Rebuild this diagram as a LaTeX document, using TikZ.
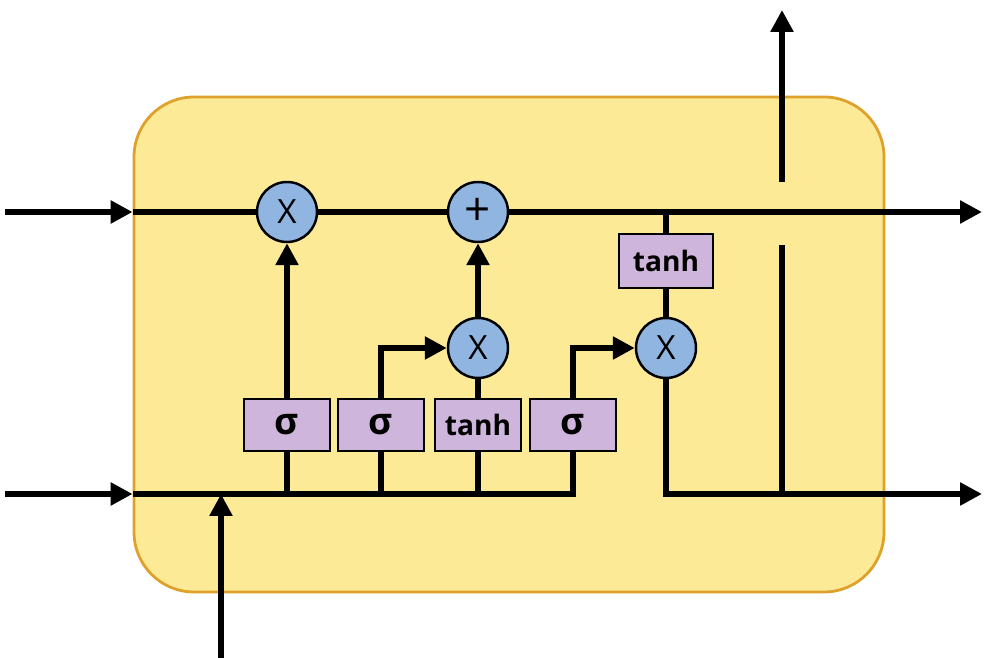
\documentclass[tikz,border=0pt]{standalone}
\usepackage{fontspec}
\setmainfont{Open Sans}
\usetikzlibrary{arrows.meta,positioning}
\definecolor{cellfill}{RGB}{253,234,150}
\definecolor{celledge}{RGB}{222,162,44}
\definecolor{opfill}{RGB}{143,181,224}
\definecolor{actfill}{RGB}{206,181,219}

\begin{document}
\begin{tikzpicture}[
  wire/.style={line width=3.8pt},
  flow/.style={wire,-{Triangle[length=0.44cm,width=0.44cm]}},
  op/.style={circle,draw,line width=1.4pt,fill=opfill,minimum size=1.2cm,inner sep=0pt,font=\fontsize{19}{20}\selectfont},
  act/.style={rectangle,draw,line width=1.3pt,fill=actfill,minimum width=1.72cm,minimum height=1.04cm,inner sep=0pt,font=\fontsize{16}{18}\selectfont\bfseries}
]
\useasboundingbox (0,0) rectangle (19.82,13.16);

% the cell
\node[draw=celledge,line width=1.6pt,fill=cellfill,rounded corners=1.2cm,minimum width=15cm,minimum height=9.9cm] (cell) at (10.18,6.27) {};

% ends of the outside wires
\coordinate (cin) at (0.1,8.92);
\coordinate (hin) at (0.1,3.28);
\coordinate (xin) at (4.42,0);
\coordinate (cout) at (19.64,8.92);
\coordinate (hout) at (19.64,3.28);
\coordinate (hup) at (15.64,12.96);
\coordinate (gaplow) at (15.64,8.26);
\coordinate (gaphigh) at (15.64,9.52);

% operations
\node[op] (x1) at (5.74,8.92) {X};
\node[op] (plus) at (9.56,8.92) {\fontsize{26}{26}\selectfont +};
\node[op] (x2) at (9.56,6.2) {X};
\node[op] (x3) at (13.32,6.2) {X};

% layers
\node[act] (s1) at (5.74,4.66) {\fontsize{21}{21}\selectfont σ};
\node[act] (s2) at (7.62,4.66) {\fontsize{21}{21}\selectfont σ};
\node[act] (t1) at (9.56,4.66) {tanh};
\node[act] (s3) at (11.46,4.66) {\fontsize{21}{21}\selectfont σ};
\node[act,minimum width=1.88cm,minimum height=1.08cm] (t2) at (13.32,7.94) {tanh};

% cell state
\draw[flow] (cin) -- (cin -| cell.west);
\draw[wire] (cin -| cell.west) -- (x1);
\draw[wire] (x1) -- (plus);
\draw[flow] (plus) -- (cout);

% hidden state and input
\draw[flow] (hin) -- (hin -| cell.west);
\draw[wire] (hin -| cell.west) -- (s3 |- hin) -- (s3.south);
\draw[wire] (s1) -- (s1 |- hin);
\draw[wire] (s2) -- (s2 |- hin);
\draw[wire] (t1) -- (t1 |- hin);
\draw[flow] (xin) -- (xin |- hin);

% gates
\draw[flow] (s1) -- (x1);
\draw[flow] (s2.north) |- (x2.west);
\draw[wire] (t1) -- (x2);
\draw[flow] (x2) -- (plus);
\draw[flow] (s3.north) |- (x3.west);
\draw[wire] (t2) -- (t2 |- cin);
\draw[wire] (t2) -- (x3);

% outputs
\draw[flow] (x3.south) |- (hout);
\draw[wire] (hup |- hout) -- (gaplow);
\draw[flow] (gaphigh) -- (hup);
\end{tikzpicture}
\end{document}
